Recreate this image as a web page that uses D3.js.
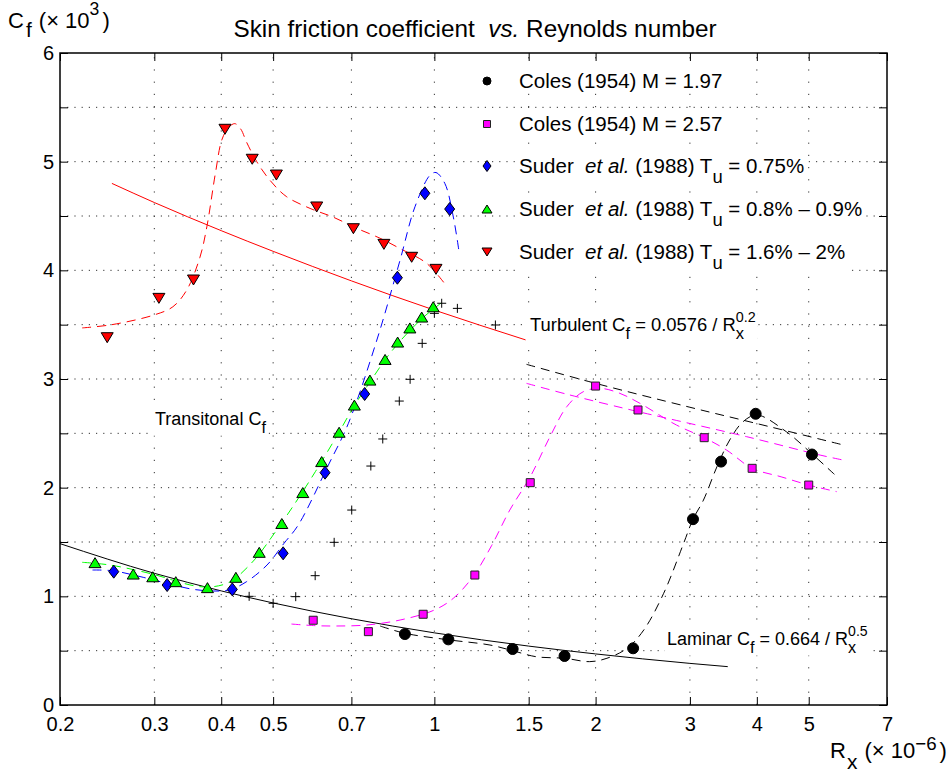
<!DOCTYPE html>
<html><head><meta charset="utf-8">
<script src="https://cdn.jsdelivr.net/npm/d3@7"></script>
<style>
html,body{margin:0;padding:0;background:#fff;}
svg{display:block;font-family:"Liberation Sans",Arial,Helvetica,sans-serif;}
</style></head><body>
<svg id="chart" width="949" height="776"></svg>
<script>
// ================= DATA =================
const xTickValues = [0.2, 0.3, 0.4, 0.5, 0.7, 1, 1.5, 2, 3, 4, 5, 7];
const yTickValues = [0, 0.5, 1, 1.5, 2, 2.5, 3, 3.5, 4, 4.5, 5, 5.5, 6];
const yGridValues = [0.5, 1, 1.5, 2, 2.5, 3, 3.5, 4, 4.5, 5, 5.5];
const xGridValues = [0.3, 0.4, 0.5, 0.7, 1, 1.5, 2, 3, 4, 5];

// Coles (1954) M = 1.97  (black circles)
const colesM197 = [[0.881,0.653],[1.062,0.604],[1.40,0.515],[1.75,0.451],[2.35,0.522],[3.04,1.71],[3.43,2.24],[3.98,2.68],[5.07,2.305]];
// Coles (1954) M = 2.57  (magenta squares)
const colesM257 = [[0.594,0.78],[0.753,0.675],[0.953,0.835],[1.19,1.196],[1.51,2.046],[2.0,2.935],[2.4,2.715],[3.19,2.46],[3.92,2.178],[5.0,2.024]];
// Suder et al. (1988) Tu = 0.75%  (blue diamonds)
const suderTu075 = [[0.252,1.227],[0.317,1.104],[0.4195,1.064],[0.522,1.396],[0.625,2.138],[0.741,2.862],[0.853,3.932],[0.96,4.709],[1.068,4.564]];
// Suder et al. (1988) Tu = 0.8% - 0.9%  (green up-triangles)
const suderTu08 = [[0.2325,1.31],[0.274,1.205],[0.298,1.18],[0.329,1.135],[0.377,1.08],[0.426,1.175],[0.471,1.405],[0.519,1.67],[0.568,1.955],[0.616,2.24],[0.664,2.51],[0.709,2.76],[0.758,2.99],[0.809,3.18],[0.854,3.34],[0.90,3.47],[0.947,3.57],[0.995,3.665]];
// Suder et al. (1988) Tu = 1.6% - 2%  (red down-triangles)
const suderTu16 = [[0.245,3.38],[0.306,3.742],[0.355,3.911],[0.4065,5.298],[0.457,5.022],[0.507,4.877],[0.603,4.583],[0.706,4.383],[0.805,4.239],[0.907,4.12],[1.007,4.009]];
// unlabelled data (black plus signs)
const plusData = [[0.451,1.0],[0.50,0.936],[0.551,0.997],[0.599,1.19],[0.65,1.497],[0.701,1.794],[0.761,2.199],[0.801,2.448],[0.86,2.797],[0.901,2.997],[0.949,3.328],[1.0,3.604],[1.032,3.697],[1.104,3.65],[1.30,3.497]];

// dashed fit curves
const fitRed = [[0.22,3.47],[0.25,3.50],[0.30,3.59],[0.325,3.665],[0.345,3.82],[0.365,4.12],[0.376,4.40],[0.39,4.89],[0.401,5.20],[0.412,5.31],[0.424,5.35],[0.435,5.30],[0.446,5.18],[0.466,5.0],[0.493,4.83],[0.529,4.68],[0.586,4.57],[0.647,4.49],[0.716,4.387],[0.792,4.295],[0.863,4.2],[0.967,4.065],[1.05,3.865]];
const fitBlue = [[0.23,1.242],[0.25,1.236],[0.286,1.175],[0.3255,1.104],[0.355,1.064],[0.387,1.049],[0.415,1.06],[0.446,1.135],[0.487,1.288],[0.524,1.488],[0.557,1.656],[0.634,2.208],[0.691,2.592],[0.781,3.359],[0.863,4.095],[0.92,4.585],[0.982,4.877],[1.007,4.9],[1.046,4.80],[1.085,4.49],[1.113,4.157]];
const fitGreen = [[0.22,1.313],[0.248,1.288],[0.30,1.20],[0.34,1.12],[0.365,1.089],[0.387,1.089],[0.416,1.135],[0.461,1.334],[0.50,1.564],[0.55,1.86],[0.60,2.15],[0.66,2.49],[0.71,2.76],[0.76,2.98],[0.81,3.18],[0.86,3.34],[0.91,3.47],[0.96,3.58],[1.03,3.70]];
const fitMagenta = [[0.541,0.745],[0.6,0.73],[0.657,0.727],[0.747,0.736],[0.863,0.782],[1.0,0.874],[1.085,0.982],[1.18,1.18],[1.28,1.47],[1.383,1.794],[1.51,2.10],[1.644,2.469],[1.767,2.745],[1.897,2.883],[2.04,2.914],[2.22,2.868],[2.42,2.776],[2.83,2.577],[3.19,2.46],[3.51,2.347],[3.92,2.178],[4.44,2.10],[5.0,2.024],[5.64,1.963]];
const fitMagentaTurb = [[1.486,2.96],[1.79,2.853],[2.4,2.70],[2.64,2.653],[3.83,2.469],[5.25,2.30],[5.8,2.254]];
const fitBlack = [[0.792,0.727],[0.881,0.66],[1.062,0.6],[1.27,0.552],[1.40,0.50],[1.55,0.444],[1.75,0.43],[1.95,0.399],[2.1,0.43],[2.29,0.522],[2.46,0.69],[2.68,1.028],[2.92,1.488],[3.04,1.71],[3.18,1.886],[3.37,2.193],[3.56,2.439],[3.77,2.607],[4.0,2.669],[4.54,2.515],[5.08,2.307],[5.6,2.117]];
const fitBlackTurb = [[1.486,3.135],[2.0,2.96],[3.0,2.74],[4.0,2.59],[5.8,2.393]];

// reference correlations (solid)
const laminarLine = [[0.2,1.485],[0.3,1.212],[0.4,1.05],[0.5,0.939],[0.7,0.794],[1,0.664],[1.5,0.542],[2,0.47],[3,0.383],[3.53,0.353]];
const turbulentLine = [[0.25,4.80],[0.3,4.624],[0.4,4.365],[0.5,4.175],[0.7,3.903],[1,3.634],[1.48,3.36]];

// ================= LAYOUT =================
const L = 60, R = 887, T = 53, B = 705;
const FONT = '"Liberation Sans",Arial,Helvetica,sans-serif';
const svg = d3.select("#chart");
svg.append("rect").attr("width",949).attr("height",776).attr("fill","#fff");

const x = d3.scaleLog().domain([0.2, 7]).range([L, R]);
const y = d3.scaleLinear().domain([0, 6]).range([B, T]);

// grid
const grid = svg.append("g");
grid.selectAll("line.h").data(yGridValues).join("line")
  .attr("x1", L).attr("x2", R).attr("y1", d => y(d)).attr("y2", d => y(d))
  .attr("stroke", "#333").attr("stroke-width", 1).attr("stroke-dasharray", "1.2,6");
grid.selectAll("line.v").data(xGridValues).join("line")
  .attr("y1", B).attr("y2", T).attr("x1", d => x(d)).attr("x2", d => x(d))
  .attr("stroke", "#333").attr("stroke-width", 1).attr("stroke-dasharray", "1.2,11");

// lines
const lineGen = d3.line().x(d => x(d[0])).y(d => y(d[1])).curve(d3.curveCatmullRom.alpha(0.5));
const straightGen = d3.line().x(d => x(d[0])).y(d => y(d[1])).curve(d3.curveMonotoneX);
const lines = svg.append("g").attr("fill", "none");
function dashed(data, color) {
  lines.append("path").datum(data).attr("d", lineGen)
    .attr("stroke", color).attr("stroke-width", 1).attr("stroke-dasharray", "9,6");
}
lines.append("path").datum(laminarLine).attr("d", straightGen).attr("stroke", "#000").attr("stroke-width", 1);
lines.append("path").datum(turbulentLine).attr("d", straightGen).attr("stroke", "#ff0000").attr("stroke-width", 1);
dashed(fitRed, "#ff0000");
dashed(fitBlue, "#0000ff");
dashed(fitGreen, "#00ff00");
dashed(fitMagenta, "#ff00ff");
dashed(fitMagentaTurb, "#ff00ff");
dashed(fitBlack, "#000");
dashed(fitBlackTurb, "#000");

// symbol types
const symCircle = d => ({draw(c){ const r=d/2; c.moveTo(r,0); c.arc(0,0,r,0,2*Math.PI); c.closePath(); }});
const symSquare = s => ({draw(c){ const h=s/2; c.moveTo(-h,-h); c.lineTo(h,-h); c.lineTo(h,h); c.lineTo(-h,h); c.closePath(); }});
const symDiamond = (w,h) => ({draw(c){ c.moveTo(0,-h/2); c.lineTo(w/2,0); c.lineTo(0,h/2); c.lineTo(-w/2,0); c.closePath(); }});
const symTriUp = (w,h) => ({draw(c){ c.moveTo(0,-h/2); c.lineTo(w/2,h/2); c.lineTo(-w/2,h/2); c.closePath(); }});
const symTriDown = (w,h) => ({draw(c){ c.moveTo(0,h/2); c.lineTo(w/2,-h/2); c.lineTo(-w/2,-h/2); c.closePath(); }});
const symPlus = s => ({draw(c){ c.moveTo(-s/2,0); c.lineTo(s/2,0); c.moveTo(0,-s/2); c.lineTo(0,s/2); }});

const marks = svg.append("g");
function markers(data, type, fill, stroke) {
  marks.append("g").selectAll("path").data(data).join("path")
    .attr("transform", d => `translate(${x(d[0])},${y(d[1])})`)
    .attr("d", d3.symbol().type(type))
    .attr("fill", fill).attr("stroke", stroke).attr("stroke-width", 1);
}
markers(plusData, symPlus(9), "none", "#000");
markers(suderTu16, symTriDown(12,10), "#ff0000", "#000");
markers(suderTu075, symDiamond(10,13), "#0000ff", "#000");
markers(suderTu08, symTriUp(12,10), "#00ff00", "#000");
markers(colesM257, symSquare(8), "#ff00ff", "#222");
markers(colesM197, symCircle(11), "#000", "#000");

// rich text helper
function rich(g, px, py, fs, parts, o) {
  o = Object.assign({subSize:0.9, subDy:0.42, supSize:0.78, supDy:0.5, anchor:"start"}, o || {});
  const t = g.append("text").attr("x", px).attr("y", py).attr("font-size", fs)
    .attr("font-family", FONT).attr("fill", "#000").attr("text-anchor", o.anchor);
  let shift = 0, lastSub = null;
  parts.forEach(p => {
    const ts = t.append("tspan").text(p.t);
    let target = 0, size = fs;
    if (p.s === "sub") { target = fs * o.subDy; size = fs * o.subSize; }
    else if (p.s === "sup") { target = -fs * o.supDy; size = fs * o.supSize; }
    if (p.s === "it") ts.attr("font-style", "italic");
    ts.attr("font-size", size);
    if (target !== shift) { ts.attr("dy", target - shift); shift = target; }
    if (p.stack && lastSub) ts.attr("dx", -lastSub.node().getComputedTextLength());
    else if (p.dx) ts.attr("dx", p.dx);
    lastSub = p.s === "sub" ? ts : null;
  });
  return t;
}
function whiteBox(g, t, padX, padY) {
  const b = t.node().getBBox();
  g.insert("rect", () => t.node()).attr("x", b.x - padX).attr("y", b.y - padY)
    .attr("width", b.width + 2*padX).attr("height", b.height + 2*padY).attr("fill", "#fff");
}

// annotations
const ann = svg.append("g");
const annTexts = [
  {x: 530, y: 331, fs: 18.4, parts: [{t:"Turbulent C"},{t:"f",s:"sub"},{t:" = 0.0576 / R"},{t:"x",s:"sub"},{t:"0.2",s:"sup",stack:true}]},
  {x: 667, y: 645, fs: 18, parts: [{t:"Laminar C"},{t:"f",s:"sub"},{t:" = 0.664 / R"},{t:"x",s:"sub"},{t:"0.5",s:"sup",stack:true}]},
  {x: 155, y: 425, fs: 18, parts: [{t:"Transitonal C"},{t:"f",s:"sub"}]}
];
annTexts.forEach(a => { const t = rich(ann, a.x, a.y, a.fs, a.parts); whiteBox(ann, t, 2, 0); });

// legend
const legendRows = [
  {cy: 81,  sym: symCircle(8), fill: "#000", stroke: "#000", parts: [{t:"Coles (1954) M = 1.97"}]},
  {cy: 124, sym: symSquare(7), fill: "#ff00ff", stroke: "#222", parts: [{t:"Coles (1954) M = 2.57"}]},
  {cy: 166, sym: symDiamond(8,11), fill: "#0000ff", stroke: "#000", parts: [{t:"Suder\u00A0\u00A0"},{t:"et al.",s:"it"},{t:" (1988) T"},{t:"u",s:"sub"},{t:" = 0.75%"}]},
  {cy: 209, sym: symTriUp(10,8), fill: "#00ff00", stroke: "#000", parts: [{t:"Suder\u00A0\u00A0"},{t:"et al.",s:"it"},{t:" (1988) T"},{t:"u",s:"sub"},{t:" = 0.8% \u2013 0.9%"}]},
  {cy: 252, sym: symTriDown(10,8), fill: "#ff0000", stroke: "#000", parts: [{t:"Suder\u00A0\u00A0"},{t:"et al.",s:"it"},{t:" (1988) T"},{t:"u",s:"sub"},{t:" = 1.6% \u2013 2%"}]}
];
const leg = svg.append("g");
legendRows.forEach(r => {
  const t = rich(leg, 519, r.cy + 7, 20.5, r.parts, {subSize:0.9, subDy:0.5});
  whiteBox(leg, t, 3, 0);
  leg.append("path").attr("transform", `translate(487,${r.cy})`)
    .attr("d", d3.symbol().type(r.sym)).attr("fill", r.fill).attr("stroke", r.stroke).attr("stroke-width", 1);
});

// axes
function styleAxis(g) {
  g.select(".domain").remove();
  g.selectAll(".tick line").attr("stroke", "#000").attr("stroke-width", 1);
  g.attr("font-family", FONT).attr("font-size", 20);
  g.selectAll(".tick text").attr("fill", "#000");
}
svg.append("g").attr("transform", `translate(0,${B})`)
  .call(d3.axisBottom(x).tickValues(xTickValues).tickFormat(d => String(d)).tickSizeInner(-8).tickSizeOuter(0).tickPadding(12))
  .call(styleAxis);
svg.append("g").attr("transform", `translate(0,${T})`)
  .call(d3.axisTop(x).tickValues(xTickValues).tickFormat(() => "").tickSizeInner(-8).tickSizeOuter(0))
  .call(styleAxis);
svg.append("g").attr("transform", `translate(${L},0)`)
  .call(d3.axisLeft(y).tickValues(yTickValues).tickFormat(d => Number.isInteger(d) ? String(d) : "").tickSizeInner(-8).tickSizeOuter(0).tickPadding(6))
  .call(styleAxis);
svg.append("g").attr("transform", `translate(${R},0)`)
  .call(d3.axisRight(y).tickValues(yTickValues).tickFormat(() => "").tickSizeInner(-8).tickSizeOuter(0))
  .call(styleAxis);
svg.append("rect").attr("x", L).attr("y", T).attr("width", R - L).attr("height", B - T)
  .attr("fill", "none").attr("stroke", "#000").attr("stroke-width", 1.5);

// title & axis labels
const labels = svg.append("g");
rich(labels, 475, 37, 24.3, [{t:"Skin friction coefficient\u00A0\u00A0"},{t:"vs.",s:"it"},{t:" Reynolds number"}], {anchor:"middle"});
rich(labels, 8, 28, 22, [{t:"C"},{t:"f",s:"sub",dx:2},{t:" (\u00D7 10",dx:1},{t:"3",s:"sup"},{t:")",dx:3}], {subSize:0.95, subDy:0.42, supSize:0.8, supDy:0.58});
rich(labels, 830, 758, 22, [{t:"R"},{t:"x",s:"sub",dx:1},{t:" (\u00D7 10",dx:1},{t:"\u22126",s:"sup"},{t:")",dx:3}], {subSize:0.95, subDy:0.52, supSize:0.85, supDy:0.38});
</script>
</body></html>
